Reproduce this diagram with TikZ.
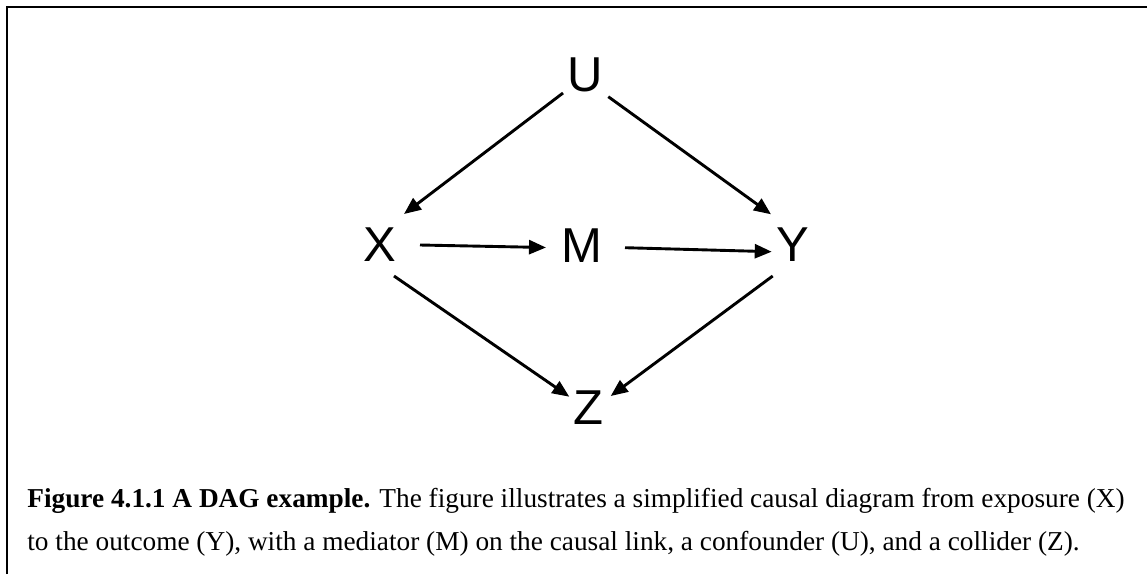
\documentclass[tikz,border=0pt]{standalone}
\usepackage{fontspec}
\setmainfont{Liberation Serif}
\newfontfamily\dagfont{Liberation Sans}
\usetikzlibrary{arrows.meta}

\begin{document}
\begin{tikzpicture}[x=0.5pt, y=-0.5pt,
  var/.style={inner sep=0pt, font=\dagfont\fontsize{24.5pt}{24.5pt}\selectfont},
  arr/.style={line width=1.45pt, -{Triangle[length=8.5pt, width=7pt]}},
  frame/.style={line width=1pt, draw=black},
  caption/.style={anchor=base west, inner sep=0pt, font=\fontsize{13.65pt}{16pt}\selectfont}]
\useasboundingbox (0,0) rectangle (1147,574);

% outer frame (left and top edges)
\draw[frame] (6.5,574) -- (6.5,7) -- (1147,7);

% variables
\node[var] (U) at (585,75)    {U};
\node[var] (X) at (380,244.5) {X};
\node[var] (M) at (582,245.5) {M};
\node[var] (Y) at (793,244.5) {Y};
\node[var] (Z) at (588,407.5) {Z};

% causal arrows
\draw[arr] ([shift={(-22,18)}]U.center)   -- ([shift={(24,-30.5)}]X.center);
\draw[arr] ([shift={(23.3,21.7)}]U.center) -- ([shift={(-22,-30.2)}]Y.center);
\draw[arr] ([shift={(40,0.5)}]X.center)   -- ([shift={(-36,2)}]M.center);
\draw[arr] ([shift={(43,2.2)}]M.center)   -- ([shift={(-21.3,7.2)}]Y.center);
\draw[arr] ([shift={(14,31.5)}]X.center)  -- ([shift={(-18.7,-10.8)}]Z.center);
\draw[arr] ([shift={(-20.3,31.5)}]Y.center) -- ([shift={(22.7,-11.5)}]Z.center);

% caption
\node[caption] (cap1) at (27,507) {\textbf{Figure 4.1.1 A DAG example.} The figure illustrates a simplified causal diagram from exposure (X)};
\node[caption] (cap2) at (27,550) {to the outcome (Y), with a mediator (M) on the causal link, a confounder (U), and a collider (Z).};
\end{tikzpicture}
\end{document}
